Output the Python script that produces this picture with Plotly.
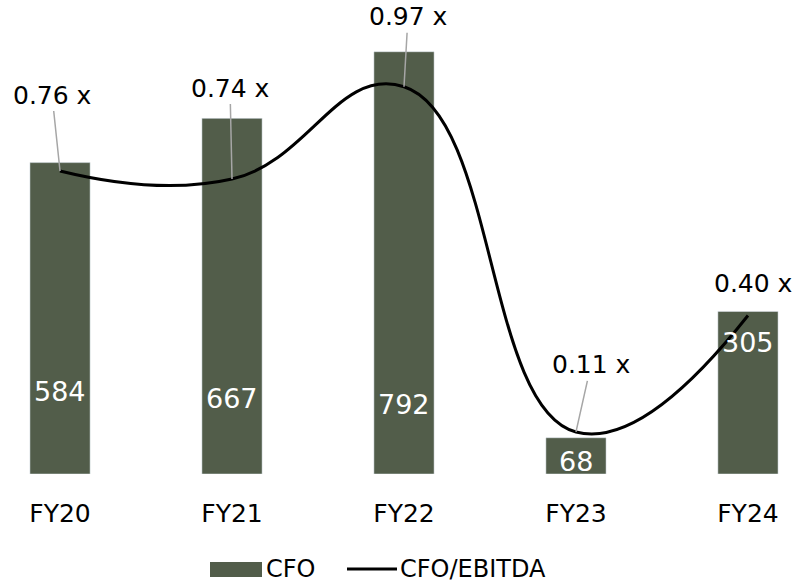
import plotly.graph_objects as go

# Cash flow from operations and cash conversion by fiscal year
years = ["FY20", "FY21", "FY22", "FY23", "FY24"]
cfo = [584, 667, 792, 68, 305]
cfo_to_ebitda = [0.76, 0.74, 0.97, 0.11, 0.40]

BAR_COLOR = "#525D4A"
LEADER_COLOR = "#A6A6A6"
FONT = "DejaVu Sans"
FS_RATIO = 25
FS_BAR = 27
FS_TICK = 25
FS_LEGEND = 24

# label placement (pixels): lift of the value text above the bar base,
# and offsets of the ratio callouts from their points
bar_label_lift = [83, 76, 70, 13, 132]
ratio_offsets = [(-8, -76), (-2, -91), (4, -70), (15, -67), (5, -32)]

fig = go.Figure()
fig.add_trace(go.Bar(
    x=years, y=cfo, name="CFO", marker_color=BAR_COLOR, width=0.35,
    showlegend=False, hoverinfo="x+y",
))
fig.add_trace(go.Scatter(
    x=years, y=cfo_to_ebitda, name="CFO/EBITDA", yaxis="y2", mode="lines",
    line=dict(color="black", width=3, shape="spline", smoothing=1.3),
    showlegend=False,
))

annotations = []
for yr, v, lift in zip(years, cfo, bar_label_lift):
    annotations.append(dict(
        x=yr, y=0, xref="x", yref="y", text=f"{v}", showarrow=False,
        yshift=lift, font=dict(family=FONT, size=FS_BAR, color="white"),
    ))
for i, (yr, r, (ax, ay)) in enumerate(zip(years, cfo_to_ebitda, ratio_offsets)):
    txt = f"{r:.2f} x"
    if i == len(years) - 1:
        annotations.append(dict(
            x=yr, y=r, xref="x", yref="y2", text=txt, showarrow=False,
            xshift=ax, yshift=-ay, font=dict(family=FONT, size=FS_RATIO, color="black"),
        ))
    else:
        annotations.append(dict(
            x=yr, y=r, xref="x", yref="y2", text=txt, showarrow=True,
            arrowhead=0, arrowwidth=1.5, arrowcolor=LEADER_COLOR, standoff=0,
            ax=ax, ay=ay, font=dict(family=FONT, size=FS_RATIO, color="black"),
        ))

# legend drawn below the axis
shapes = [
    dict(type="rect", xref="paper", yref="paper", x0=210 / 792, x1=262 / 792,
         y0=-(577 - 474) / 474, y1=-(562 - 474) / 474,
         fillcolor=BAR_COLOR, line=dict(width=0)),
    dict(type="line", xref="paper", yref="paper", x0=347 / 792, x1=397 / 792,
         y0=-(569 - 474) / 474, y1=-(569 - 474) / 474,
         line=dict(color="black", width=3)),
]
annotations.append(dict(
    x=264 / 792, y=-(569 - 474) / 474, xref="paper", yref="paper",
    text=fig.data[0].name, showarrow=False, xanchor="left", yanchor="middle",
    font=dict(family=FONT, size=FS_LEGEND, color="black"),
))
annotations.append(dict(
    x=398 / 792, y=-(569 - 474) / 474, xref="paper", yref="paper",
    text=fig.data[1].name, showarrow=False, xanchor="left", yanchor="middle",
    font=dict(family=FONT, size=FS_LEGEND, color="black"),
))

fig.update_layout(
    width=792, height=586,
    margin=dict(l=0, r=0, t=0, b=112),
    paper_bgcolor="white", plot_bgcolor="white",
    font=dict(family=FONT, size=FS_TICK, color="black"),
    xaxis=dict(type="category", range=[-0.349, 4.256], showgrid=False,
               showline=False, zeroline=False, ticks="",
               ticklabelstandoff=22, tickfont=dict(size=FS_TICK)),
    yaxis=dict(range=[0, 889], visible=False, showgrid=False),
    yaxis2=dict(range=[0.0052, 1.186], overlaying="y", side="right",
                visible=False, showgrid=False),
    annotations=annotations,
    shapes=shapes,
    bargap=0.65,
)

fig.write_html("out.html")
